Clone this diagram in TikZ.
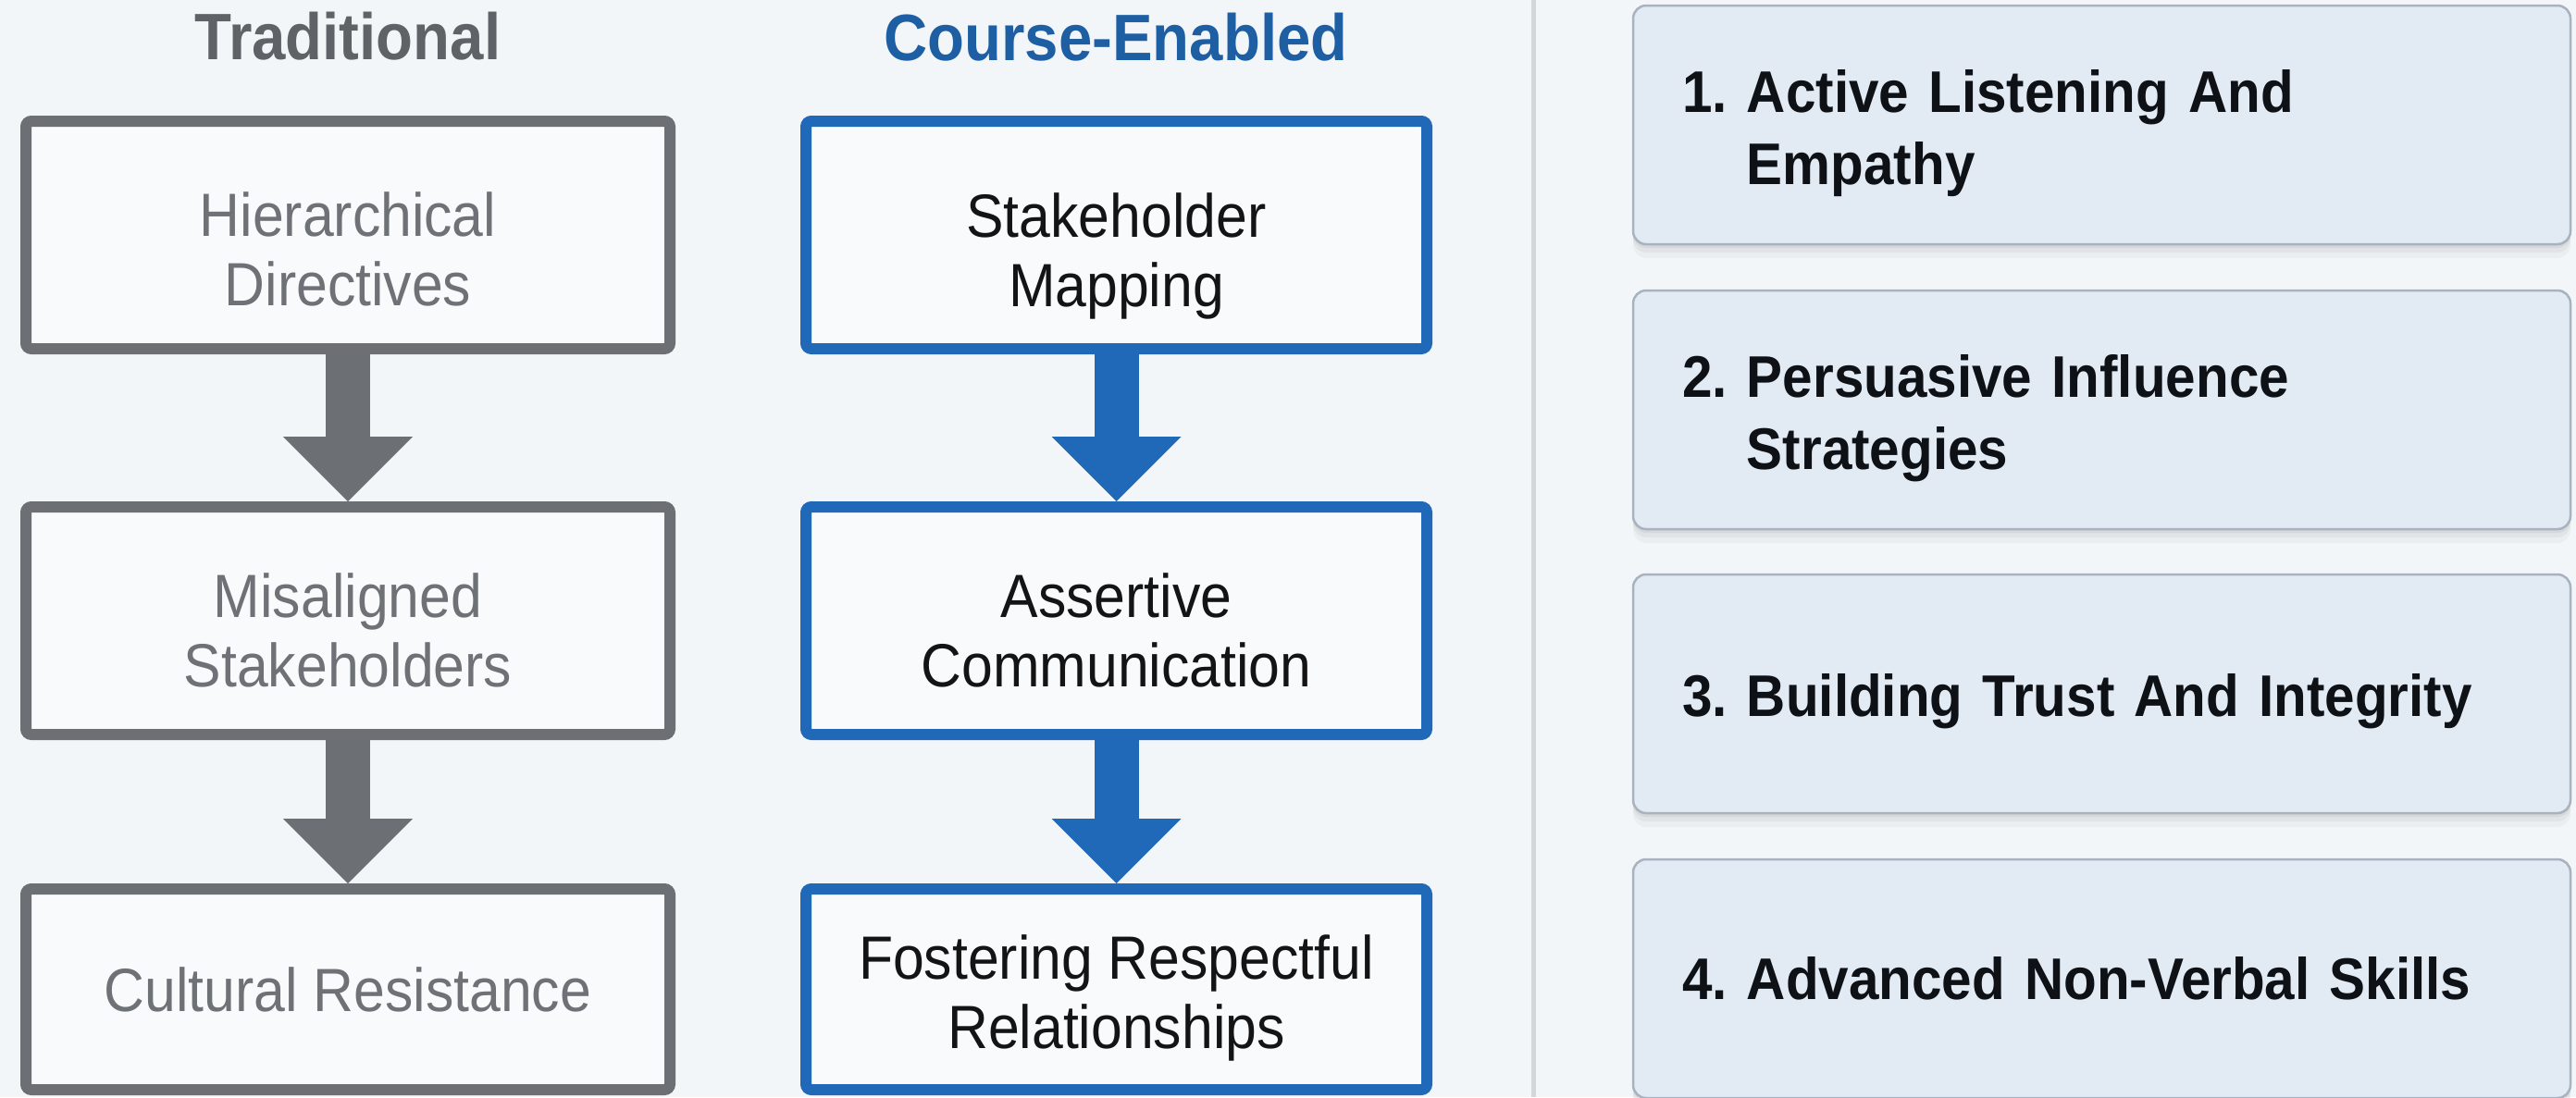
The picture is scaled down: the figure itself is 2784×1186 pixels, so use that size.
\documentclass[tikz,border=0pt]{standalone}
\usepackage{fontspec}
\setmainfont{Liberation Sans}[FakeStretch=0.92]
\usetikzlibrary{arrows.meta,shadows}
\definecolor{bgc}{HTML}{F3F6F9}
\definecolor{boxfill}{HTML}{F8FAFC}
\definecolor{graybd}{HTML}{6C7075}
\definecolor{graytitle}{HTML}{5F6368}
\definecolor{graytext}{HTML}{6E7277}
\definecolor{bluebd}{HTML}{2068B8}
\definecolor{bluetitle}{HTML}{1E5FA3}
\definecolor{bluetext}{HTML}{141414}
\definecolor{cardfill}{HTML}{E2EAF4}
\definecolor{cardbd}{HTML}{A9B3BF}
\definecolor{cardtext}{HTML}{0E1116}
\definecolor{divc}{HTML}{D3D7DC}
\newcommand\myraise[1]{\rule{0pt}{#1}}
\begin{document}
\begin{tikzpicture}[x=1pt,y=-1pt,
  coltitle/.style={font=\bfseries\fontsize{71}{85}\selectfont, inner sep=0pt, outer sep=0pt},
  flowbox/.style={rectangle, rounded corners=6pt, line width=12pt, fill=boxfill,
    minimum width=696pt, minimum height=246pt, inner sep=0pt, outer sep=0pt,
    align=center, font=\fontsize{66}{75}\selectfont},
  graybox/.style={flowbox, draw=graybd, text=graytext},
  bluebox/.style={flowbox, draw=bluebd, text=bluetext, minimum width=671pt},
  fatarrow/.style={line width=48pt, shorten >=6pt, -{Triangle[length=70pt, width=140pt, line width=0pt]}},
  card/.style={rectangle, rounded corners=14pt, fill=cardfill, draw=cardbd, line width=2.5pt,
    minimum width=1013pt, minimum height=258pt, text width=907pt, inner xsep=53pt,
    inner ysep=0pt, outer sep=0pt, align=left, text=cardtext,
    font=\bfseries\fontsize{63.5}{78}\selectfont,
    general shadow={fill=black, opacity=0.05, shadow yshift=-4pt},
    general shadow={fill=black, opacity=0.04, shadow yshift=-9pt},
    general shadow={fill=black, opacity=0.03, shadow yshift=-15pt}},
]
\useasboundingbox (0,0) rectangle (2784,1186);
\fill[bgc] (0,0) rectangle (2784,1186);

% divider
\draw[divc, line width=5pt] (1657,0) -- (1657,1186);

% titles
\node[coltitle, text=graytitle] (tt) at (376,39) {Traditional};
\node[coltitle, text=bluetitle] (tc) at (1206,40) {Course-Enabled};

% traditional column
\node[graybox] (g1) at (376,254) {\myraise{79pt}Hierarchical\\Directives};
\node[graybox] (g2) at (376,671) {\myraise{69pt}Misaligned\\Stakeholders};
\node[graybox, minimum height=217pt] (g3) at (376,1069.5) {Cultural Resistance};
\draw[fatarrow, graybd] (g1.south) -- (g2.north);
\draw[fatarrow, graybd] (g2.south) -- (g3.north);

% course-enabled column
\node[bluebox] (b1) at (1206.5,254) {\myraise{93pt}Stakeholder\\Mapping};
\node[bluebox] (b2) at (1206.5,671) {\myraise{69pt}Assertive\\Communication};
\node[bluebox, minimum height=217pt] (b3) at (1206.5,1069.5) {\myraise{66pt}Fostering Respectful\\Relationships};
\draw[fatarrow, bluebd] (b1.south) -- (b2.north);
\draw[fatarrow, bluebd] (b2.south) -- (b3.north);

% skill cards
\node[card] (c1) at (2271.5,135) {\myraise{75pt}1.\ \begin{tabular}[t]{@{}l@{}}Active Listening And\\Empathy\end{tabular}};
\node[card] (c2) at (2271.5,443) {\myraise{75pt}2.\ \begin{tabular}[t]{@{}l@{}}Persuasive Influence\\Strategies\end{tabular}};
\node[card] (c3) at (2271.5,750) {\myraise{63pt}3.\ Building Trust And Integrity};
\node[card] (c4) at (2271.5,1058) {4.\ Advanced Non-Verbal Skills};
\end{tikzpicture}
\end{document}
